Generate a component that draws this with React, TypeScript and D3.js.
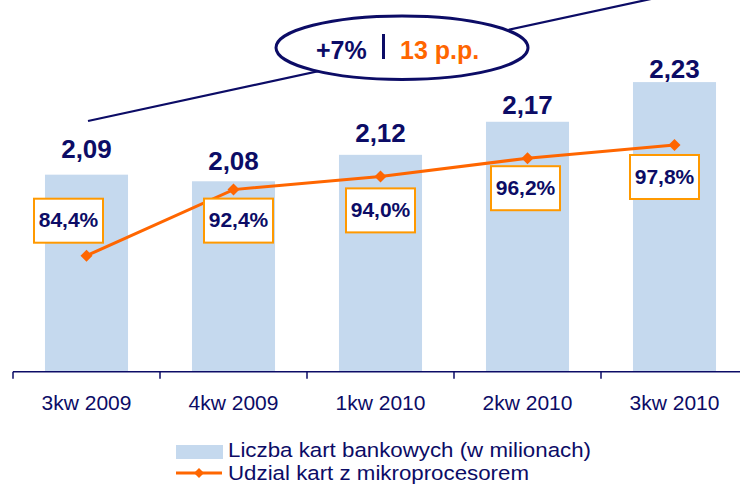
import React from "react";
import * as d3 from "d3";

const categories = ["3kw 2009", "4kw 2009", "1kw 2010", "2kw 2010", "3kw 2010"];
const cardCounts = [2.09, 2.08, 2.12, 2.17, 2.23];
const chipShares = [84.4, 92.4, 94.0, 96.2, 97.8];
const barLabels = ["2,09", "2,08", "2,12", "2,17", "2,23"];
const shareLabels = ["84,4%", "92,4%", "94,0%", "96,2%", "97,8%"];
const legendLabels = ["Liczba kart bankowych (w milionach)", "Udzial kart z mikroprocesorem"];
const growthText = "+7%";
const ppText = "13 p.p.";

// layout (label nudges as in the original)
const barLabelGap = [17, 11, 13, 8, 4];
const boxDx = [-18, 5, 0, -2, -10];
const boxDy = [-35, 31, 34, 30, 32];
const legendWidths = [363, 301];

const W = 740;
const H = 484;
const NAVY = "#0c0c66";
const ORANGE = "#ff6600";
const BOX = "#ff9900";
const BAR = "#c5d9ee";
const FONT = "'Liberation Sans', Arial, sans-serif";
const baseY = 371.7;

export default function App() {
  const x = d3
    .scaleBand<string>()
    .domain(categories)
    .range([13, 13 + 147 * 5])
    .paddingInner(0.435)
    .paddingOuter(0.2175);
  const y = d3.scaleLinear().domain([1.792, 2.23]).range([baseY, 82.1]);
  const yp = d3.scaleLinear().domain([70.36, 110]).range([baseY, 44.2]);
  const cx = (c: string) => (x(c) as number) + x.bandwidth() / 2;
  const step = x.step();
  const ticks = d3.range(categories.length + 1).map((i) => 13 + i * step);

  const line = d3
    .line<number>()
    .x((_, i) => cx(categories[i]))
    .y((d) => yp(d));

  const diamond = (px: number, py: number, r: number) =>
    `M${px},${py - r}L${px + r},${py}L${px},${py + r}L${px - r},${py}Z`;

  return (
    <svg
      width={W}
      height={H}
      style={{ position: "absolute", left: 0, top: 0, background: "#fff" }}
      fontFamily={FONT}
    >
      {/* trend line behind ellipse */}
      <line x1={88} y1={121} x2={660} y2={-3} stroke={NAVY} strokeWidth={2.2} />
      <ellipse cx={402} cy={47.7} rx={126} ry={31.7} fill="#fff" stroke={NAVY} strokeWidth={3} />
      <text x={316} y={59.3} fontSize={25} fontWeight="bold" fill={NAVY}>
        {growthText}
      </text>
      <line x1={383.5} y1={34} x2={383.5} y2={59} stroke={NAVY} strokeWidth={3} />
      <text x={400} y={59.3} fontSize={25} fontWeight="bold" fill={ORANGE}>
        {ppText}
      </text>

      {/* bars */}
      {categories.map((c, i) => (
        <rect
          key={c}
          x={x(c)}
          y={y(cardCounts[i])}
          width={x.bandwidth()}
          height={baseY - y(cardCounts[i])}
          fill={BAR}
        />
      ))}
      {categories.map((c, i) => (
        <text
          key={"bl" + c}
          x={cx(c)}
          y={y(cardCounts[i]) - barLabelGap[i]}
          fontSize={26}
          fontWeight="bold"
          fill={NAVY}
          textAnchor="middle"
        >
          {barLabels[i]}
        </text>
      ))}

      {/* axis */}
      <line x1={13} y1={baseY} x2={W} y2={baseY} stroke={NAVY} strokeWidth={1.5} />
      {ticks.map((t, i) => (
        <line key={"t" + i} x1={t} y1={baseY} x2={t} y2={baseY + 7} stroke={NAVY} strokeWidth={1.5} />
      ))}
      {categories.map((c) => (
        <text key={"xl" + c} x={cx(c)} y={410} fontSize={21} fill={NAVY} textAnchor="middle">
          {c}
        </text>
      ))}

      {/* share line */}
      <path d={line(chipShares) || ""} fill="none" stroke={ORANGE} strokeWidth={3} />
      {chipShares.map((v, i) => (
        <path key={"m" + i} d={diamond(cx(categories[i]), yp(v), 6)} fill={ORANGE} />
      ))}
      {chipShares.map((v, i) => {
        const bx = cx(categories[i]) + boxDx[i];
        const by = yp(v) + boxDy[i];
        return (
          <g key={"pb" + i}>
            <rect x={bx - 34.5} y={by - 22} width={69} height={44} fill="#fff" stroke={BOX} strokeWidth={2} />
            <text x={bx} y={by + 6.7} fontSize={21} fontWeight="bold" fill={NAVY} textAnchor="middle">
              {shareLabels[i]}
            </text>
          </g>
        );
      })}

      {/* legend */}
      <rect x={176} y={445} width={47} height={14} fill={BAR} />
      <text
        x={228}
        y={457.3}
        fontSize={20.5}
        fill={NAVY}
        textLength={legendWidths[0]}
        lengthAdjust="spacingAndGlyphs"
      >
        {legendLabels[0]}
      </text>
      <line x1={176} y1={473} x2={222} y2={473} stroke={ORANGE} strokeWidth={3} />
      <path d={diamond(199, 473, 5)} fill={ORANGE} />
      <text
        x={228}
        y={480.3}
        fontSize={20.5}
        fill={NAVY}
        textLength={legendWidths[1]}
        lengthAdjust="spacingAndGlyphs"
      >
        {legendLabels[1]}
      </text>
    </svg>
  );
}
